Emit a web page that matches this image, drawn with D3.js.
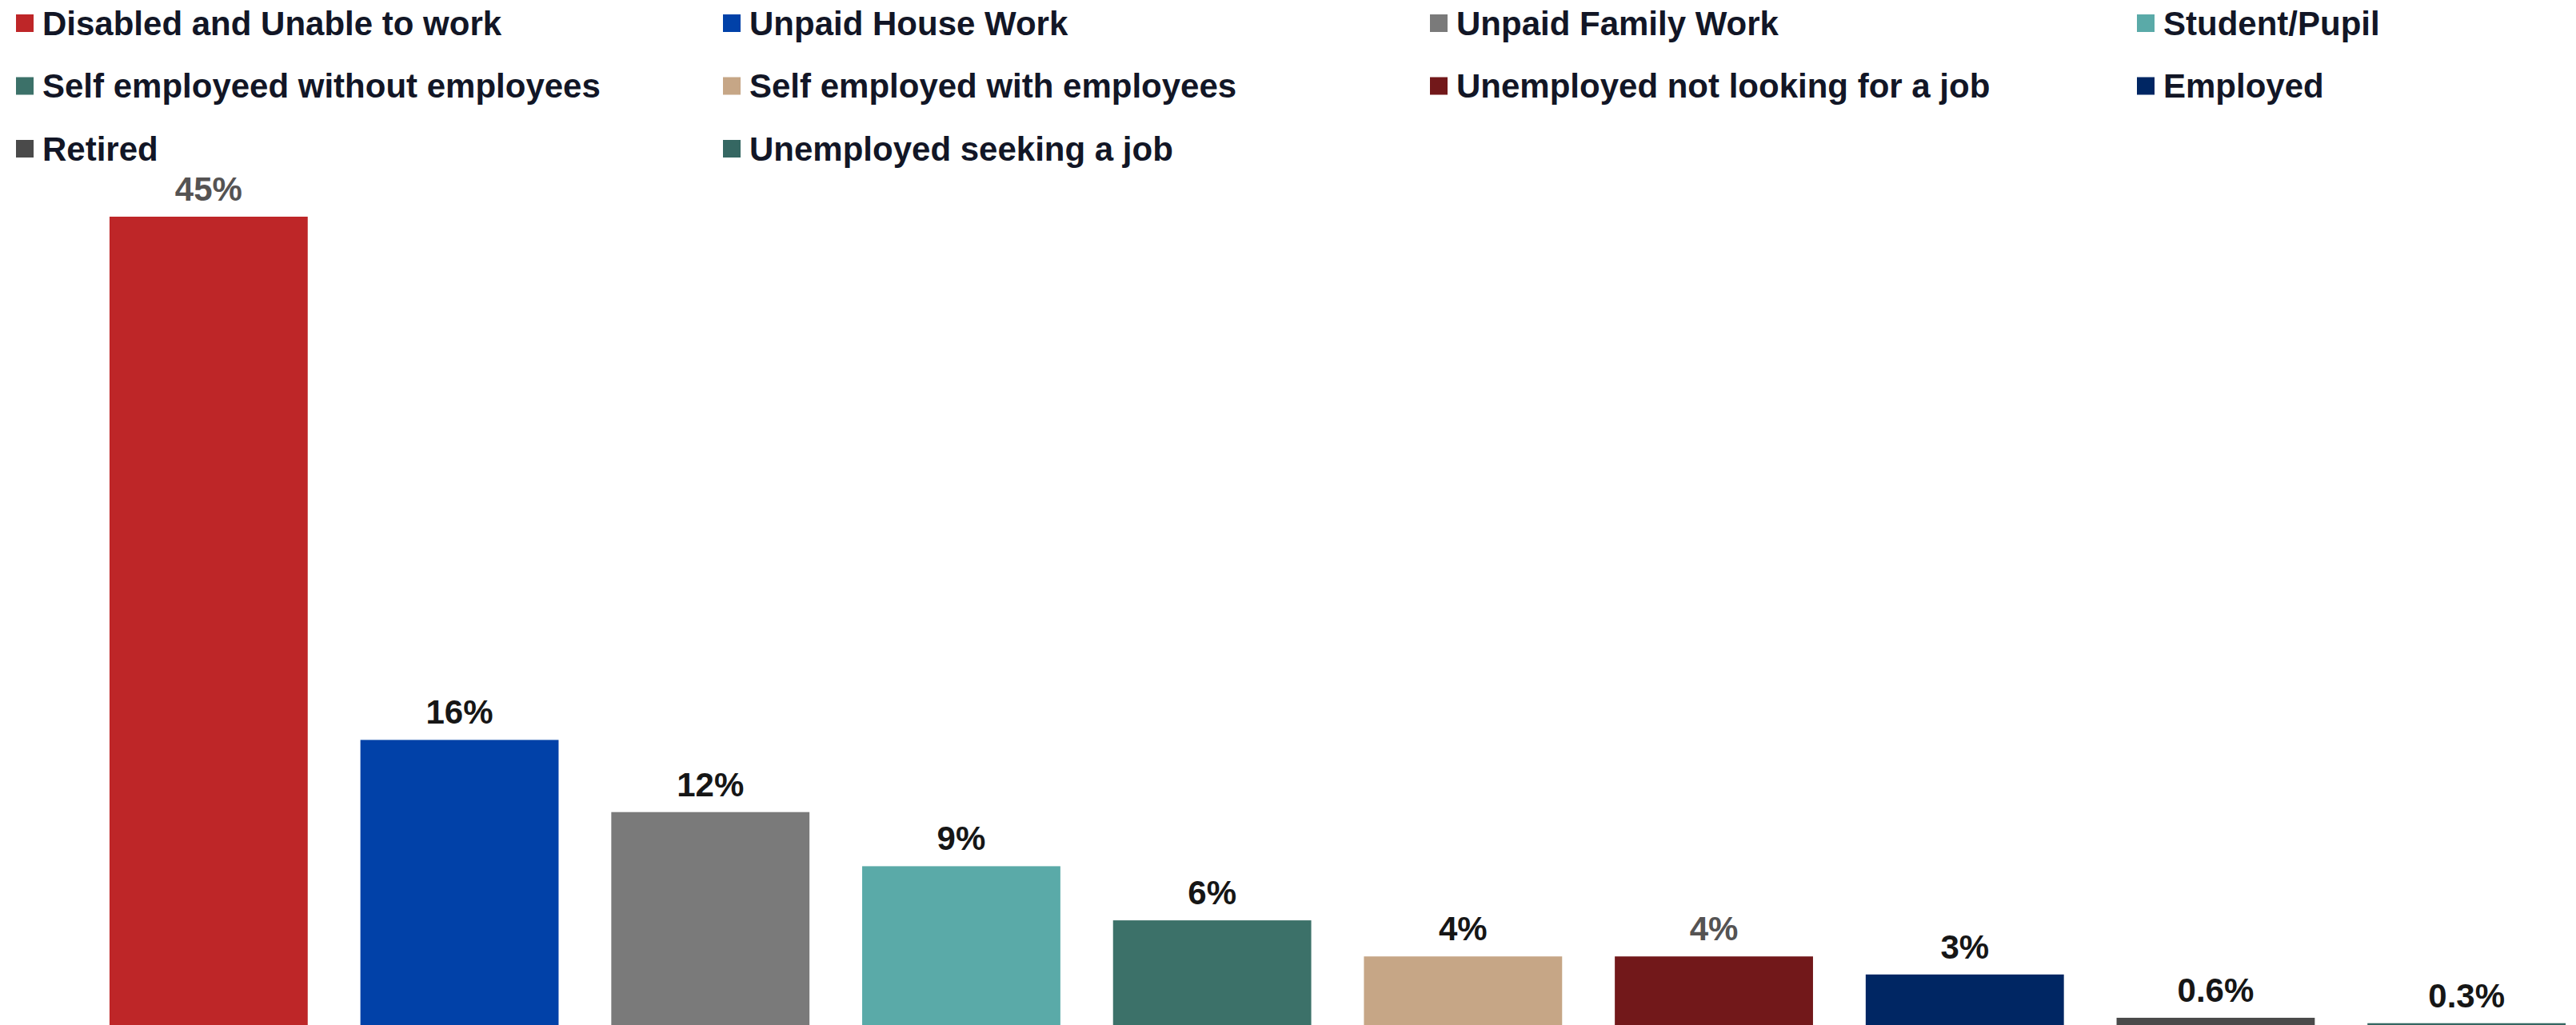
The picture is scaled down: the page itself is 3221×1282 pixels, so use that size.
<!DOCTYPE html>
<html>
<head>
<meta charset="utf-8">
<script src="https://cdn.jsdelivr.net/npm/d3@7"></script>
<style>
  html, body { margin: 0; padding: 0; background: #ffffff; }
  svg { display: block; }
  text { font-family: "Liberation Sans", Arial, sans-serif; font-weight: bold; }
</style>
</head>
<body>
<div id="chart"></div>
<script>
// Employment status shares
const categories = [
  "Disabled and Unable to work",
  "Unpaid House Work",
  "Unpaid Family Work",
  "Student/Pupil",
  "Self employeed without employees",
  "Self employed with employees",
  "Unemployed not looking for a job",
  "Employed",
  "Retired",
  "Unemployed seeking a job"
];
const values = [45, 16, 12, 9, 6, 4, 4, 3, 0.6, 0.3];
const valueLabels = ["45%", "16%", "12%", "9%", "6%", "4%", "4%", "3%", "0.6%", "0.3%"];
const colors = [
  "#be2628", "#0141a8", "#7a7a7a", "#5aaaa8", "#3c7169",
  "#c6a686", "#72181a", "#002663", "#4a4a4a", "#356762"
];
const labelColors = [
  "#555353", "#161616", "#161616", "#161616", "#161616",
  "#161616", "#555353", "#161616", "#161616", "#161616"
];

const W = 3221, H = 1282;

const svg = d3.select("#chart").append("svg")
  .attr("width", W)
  .attr("height", H);

const x = d3.scaleBand()
  .domain(categories)
  .range([104, 3241])
  .paddingInner(0.21)
  .paddingOuter(0.105);

const y = d3.scaleLinear()
  .domain([0, 45])
  .range([1286.5, 271]);

// Bars
svg.append("g").selectAll("rect")
  .data(categories)
  .join("rect")
  .attr("x", d => x(d))
  .attr("width", x.bandwidth())
  .attr("y", (d, i) => y(values[i]))
  .attr("height", (d, i) => y(0) - y(values[i]))
  .attr("fill", (d, i) => colors[i]);

// Value labels above bars
svg.append("g").selectAll("text")
  .data(categories)
  .join("text")
  .attr("x", d => x(d) + x.bandwidth() / 2)
  .attr("y", (d, i) => y(values[i]) - 20)
  .attr("text-anchor", "middle")
  .attr("font-size", 42)
  .attr("fill", (d, i) => labelColors[i])
  .text((d, i) => valueLabels[i]);

// Legend: four columns, row-major
const legendCols = 4, colStep = 884, rowStep = 78.5;
const legend = svg.append("g").attr("transform", "translate(20,29)");
const item = legend.selectAll("g")
  .data(categories)
  .join("g")
  .attr("transform", (d, i) => `translate(${(i % legendCols) * colStep},${Math.floor(i / legendCols) * rowStep})`);

item.append("rect")
  .attr("x", 0)
  .attr("y", -11)
  .attr("width", 22)
  .attr("height", 22)
  .attr("fill", (d, i) => colors[i]);

item.append("text")
  .attr("x", 33)
  .attr("y", 14.5)
  .attr("font-size", 42)
  .attr("fill", "#121626")
  .text(d => d);
</script>
</body>
</html>
